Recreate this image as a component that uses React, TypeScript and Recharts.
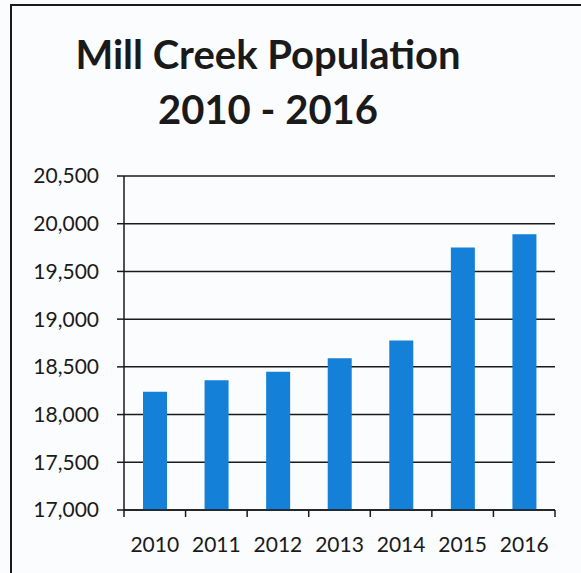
import { BarChart, Bar, XAxis, YAxis, CartesianGrid } from 'recharts'

const years = ['2010', '2011', '2012', '2013', '2014', '2015', '2016']
const population = [18240, 18360, 18450, 18590, 18775, 19750, 19890]
const yTicks = [17000, 17500, 18000, 18500, 19000, 19500, 20000, 20500]

const data = years.map((y, i) => ({ year: y, value: population[i] }))

const FONT = 'Lato, "Open Sans", sans-serif'
const INK = '#1a1a1a'

// label plus tick marks at the category edges (Excel style)
function YearTick(props: any) {
  const { x, y, payload, index } = props
  const half = payload?.offset ?? 0
  return (
    <g>
      {index === 0 && <line x1={x - half} x2={x - half} y1={y} y2={y + 7} stroke={INK} strokeWidth={1.5} />}
      <line x1={x + half} x2={x + half} y1={y} y2={y + 7} stroke={INK} strokeWidth={1.5} />
      <text x={x} y={y} dy={42} textAnchor="middle" fill={INK} fontSize={21} fontFamily={FONT}>{payload.value}</text>
    </g>
  )
}

export default function App() {
  return (
    <div style={{ position: 'absolute', left: 0, top: 0, width: 581, height: 573, background: '#fbfcfd', overflow: 'hidden' }}>
      <div style={{ position: 'absolute', left: 10, top: 4, right: 0, bottom: 0, borderTop: `2px solid ${INK}`, borderLeft: `2px solid ${INK}` }} />
      <div style={{ position: 'absolute', left: 18, width: 500, top: 27, textAlign: 'center', fontFamily: FONT, fontWeight: 700, fontSize: 40, lineHeight: '55px', color: INK }}>
        <div>Mill Creek Population</div>
        <div>2010 - 2016</div>
      </div>
      <BarChart width={581} height={573} data={data} margin={{ top: 176, right: 26, left: 0, bottom: 23 }}>
        <CartesianGrid vertical={false} stroke={INK} strokeWidth={1.5} />
        <XAxis dataKey="year" height={40} axisLine={{ stroke: INK, strokeWidth: 1.5 }} tickLine={false} tickSize={0} tickMargin={0}
          tick={<YearTick />} interval={0} />
        <YAxis width={124} domain={[17000, 20500]} ticks={yTicks} interval={0} tickSize={7} tickMargin={18}
          axisLine={{ stroke: INK, strokeWidth: 1.5 }} tickLine={{ stroke: INK, strokeWidth: 1.5 }}
          tickFormatter={(v: number) => v.toLocaleString('en-US')}
          tick={{ fill: INK, fontSize: 21, fontFamily: FONT }} />
        <Bar dataKey="value" fill="#1480d8" barSize={24} isAnimationActive={false} />
      </BarChart>
    </div>
  )
}
